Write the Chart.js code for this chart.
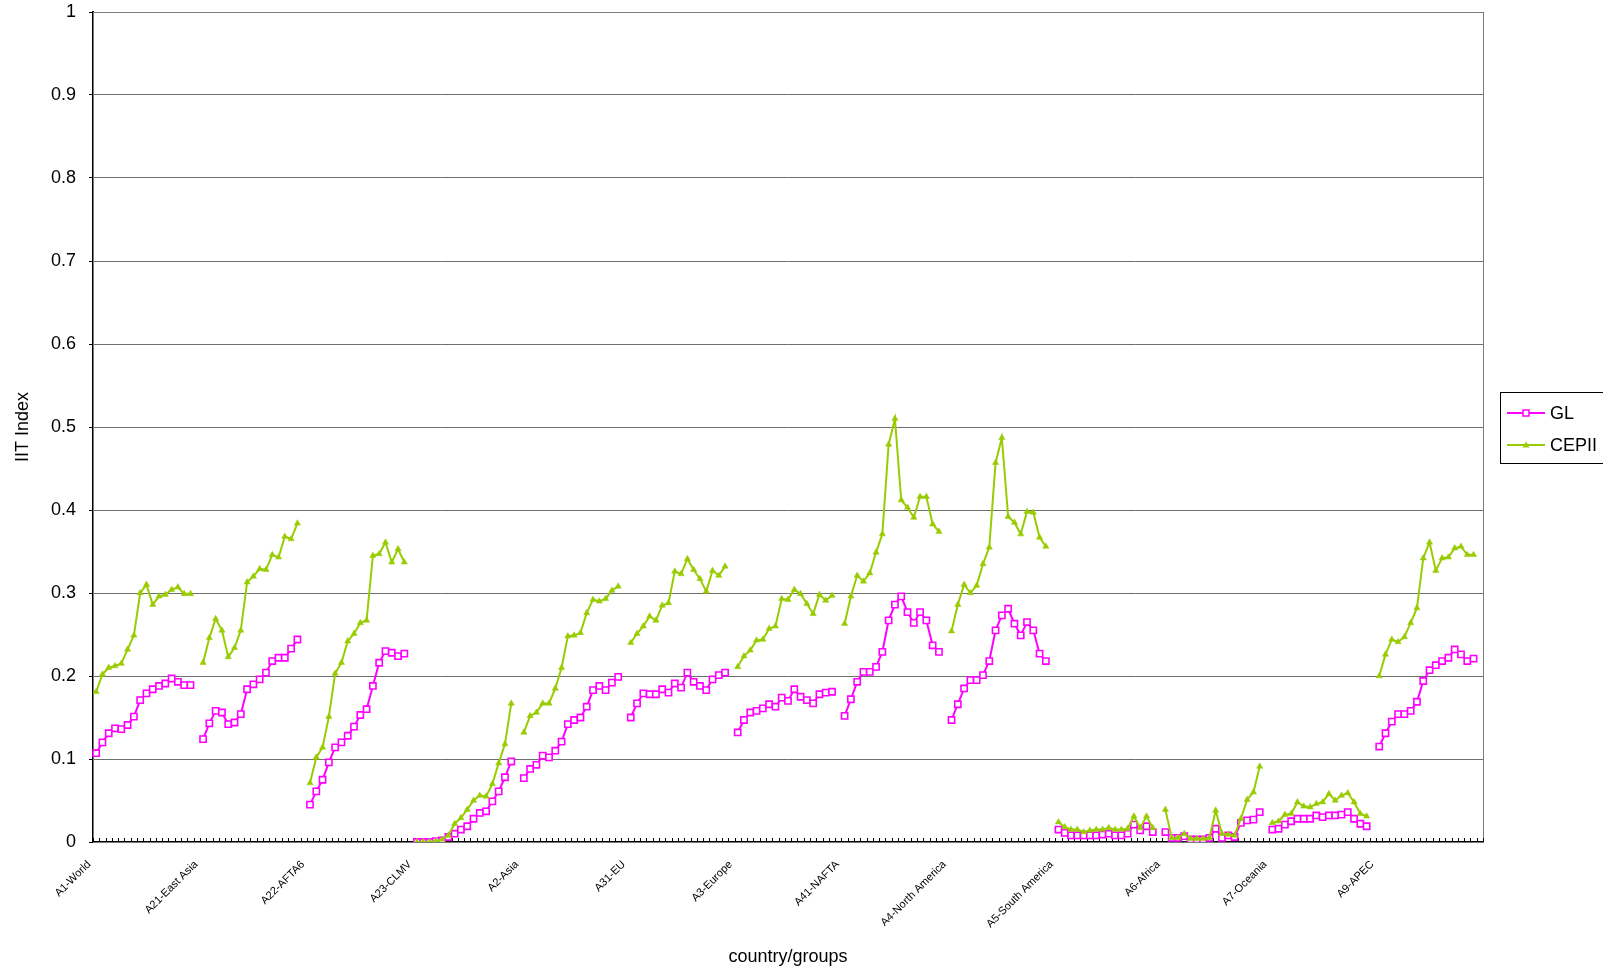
<!DOCTYPE html>
<html>
<head>
<meta charset="utf-8">
<title>IIT Index by country/groups</title>
<script src="https://cdn.jsdelivr.net/npm/chart.js@4.4.1/dist/chart.umd.min.js"></script>
<style>
  html, body { margin: 0; padding: 0; background: #ffffff; overflow: hidden; }
  #wrap { width: 1603px; height: 974px; position: relative; }
  canvas { display: block; }
</style>
</head>
<body>
<div id="wrap"><canvas id="iitChart" width="1603" height="974"></canvas></div>
<script>
// Country groups, one block of 16 yearly observations each
const groupNames = [
  'A1-World', 'A21-East Asia', 'A22-AFTA6', 'A23-CLMV', 'A2-Asia', 'A31-EU',
  'A3-Europe', 'A41-NAFTA', 'A4-North America', 'A5-South America',
  'A6-Africa', 'A7-Oceania', 'A9-APEC'
];

// GL index, per group
const glValues = [
  [0.107,0.120,0.131,0.137,0.136,0.141,0.151,0.171,0.179,0.184,0.188,0.191,0.197,0.193,0.189,0.189],
  [0.124,0.143,0.158,0.156,0.142,0.144,0.154,0.184,0.190,0.196,0.204,0.218,0.222,0.222,0.233,0.244],
  [0.045,0.061,0.075,0.096,0.114,0.120,0.128,0.139,0.153,0.160,0.188,0.216,0.230,0.228,0.224,0.227],
  [0.000,0.000,0.000,0.001,0.002,0.006,0.010,0.015,0.019,0.028,0.035,0.037,0.049,0.061,0.078,0.097],
  [0.077,0.088,0.093,0.104,0.102,0.110,0.121,0.142,0.147,0.150,0.163,0.183,0.188,0.183,0.192,0.199],
  [0.150,0.167,0.179,0.178,0.178,0.184,0.180,0.191,0.186,0.204,0.193,0.188,0.183,0.196,0.201,0.204],
  [0.132,0.147,0.156,0.158,0.161,0.166,0.163,0.174,0.170,0.184,0.175,0.171,0.167,0.178,0.180,0.181],
  [0.152,0.172,0.193,0.205,0.205,0.211,0.229,0.267,0.286,0.296,0.277,0.264,0.277,0.267,0.237,0.229],
  [0.147,0.166,0.185,0.195,0.195,0.201,0.218,0.255,0.273,0.281,0.263,0.249,0.265,0.255,0.227,0.218],
  [0.015,0.011,0.008,0.008,0.008,0.008,0.008,0.009,0.010,0.008,0.008,0.010,0.021,0.014,0.019,0.012],
  [0.012,0.005,0.005,0.007,0.003,0.003,0.003,0.005,0.016,0.005,0.008,0.006,0.023,0.026,0.027,0.036],
  [0.015,0.016,0.021,0.025,0.028,0.028,0.028,0.032,0.030,0.032,0.032,0.033,0.036,0.028,0.022,0.019],
  [0.115,0.131,0.145,0.154,0.154,0.158,0.169,0.194,0.207,0.213,0.218,0.222,0.232,0.226,0.218,0.221]
];

// CEPII index, per group
const cepiiValues = [
  [0.181,0.202,0.210,0.212,0.215,0.232,0.249,0.300,0.310,0.286,0.296,0.298,0.304,0.307,0.299,0.299],
  [0.216,0.246,0.269,0.255,0.223,0.234,0.255,0.313,0.320,0.329,0.328,0.346,0.343,0.368,0.365,0.384],
  [0.071,0.102,0.114,0.151,0.203,0.216,0.242,0.251,0.264,0.267,0.345,0.347,0.361,0.337,0.353,0.337],
  [0.000,0.000,0.000,0.001,0.003,0.008,0.022,0.029,0.039,0.050,0.056,0.055,0.070,0.095,0.118,0.167],
  [0.132,0.152,0.156,0.167,0.167,0.185,0.210,0.248,0.249,0.252,0.276,0.292,0.290,0.293,0.303,0.308],
  [0.240,0.251,0.260,0.272,0.267,0.285,0.288,0.326,0.323,0.341,0.328,0.317,0.302,0.327,0.321,0.332],
  [0.211,0.224,0.231,0.243,0.244,0.257,0.260,0.293,0.292,0.304,0.299,0.287,0.275,0.298,0.291,0.297],
  [0.263,0.296,0.321,0.314,0.324,0.349,0.371,0.479,0.510,0.412,0.403,0.391,0.416,0.416,0.383,0.374],
  [0.254,0.286,0.310,0.300,0.309,0.335,0.355,0.457,0.487,0.392,0.385,0.371,0.398,0.397,0.367,0.356],
  [0.024,0.018,0.015,0.015,0.012,0.014,0.015,0.015,0.017,0.015,0.015,0.016,0.031,0.017,0.031,0.017],
  [0.039,0.005,0.005,0.010,0.004,0.004,0.004,0.005,0.038,0.010,0.009,0.008,0.028,0.051,0.060,0.091],
  [0.023,0.025,0.033,0.034,0.048,0.043,0.042,0.046,0.048,0.058,0.050,0.056,0.059,0.048,0.034,0.031],
  [0.200,0.226,0.244,0.241,0.247,0.264,0.282,0.342,0.361,0.327,0.342,0.343,0.354,0.356,0.346,0.346]
];

// Y axis tick labels (0 .. 1 in steps of 0.1)
const yTickLabels = ['0','0.1','0.2','0.3','0.4','0.5','0.6','0.7','0.8','0.9','1'];

const seriesNames = ['GL', 'CEPII'];
const seriesColors = ['#ff00ff', '#99cc00'];

// Each group is followed by one empty slot so the lines break between groups
const categories = [];
groupNames.forEach(name => {
  for (let i = 0; i < 17; i++) categories.push(i === 0 ? name : '');
});
function flatten(blocks) {
  const out = [];
  blocks.forEach(b => { b.forEach(v => out.push(v)); out.push(null); });
  return out;
}

const FONT = '"Liberation Sans", Arial, Helvetica, sans-serif';
Chart.defaults.font.family = FONT;
Chart.defaults.color = '#000';

// Grey frame round the plot area plus short inward x-axis ticks
const plotFrame = {
  id: 'plotFrame',
  beforeDatasetsDraw(chart) {
    const { ctx, chartArea: a, scales: { x } } = chart;
    ctx.save();
    ctx.strokeStyle = '#7a7a7a';
    ctx.lineWidth = 1;
    ctx.strokeRect(a.left + 0.5, a.top + 0.5, a.right - a.left, a.bottom - a.top);
    ctx.strokeStyle = '#000';
    ctx.beginPath();
    for (let i = 0; i <= categories.length; i++) {
      const px = Math.round(x.getPixelForValue(i - 0.5)) + 0.5;
      ctx.moveTo(px, a.bottom);
      ctx.lineTo(px, a.bottom - 4);
    }
    ctx.stroke();
    ctx.restore();
  }
};

// Boxed legend at the right of the plot
const sideLegend = {
  id: 'sideLegend',
  afterDraw(chart) {
    const { ctx } = chart;
    const bx = 1500.5, by = 392.5, bw = 130, bh = 71;
    ctx.save();
    ctx.fillStyle = '#fff';
    ctx.fillRect(bx, by, bw, bh);
    ctx.strokeStyle = '#000';
    ctx.lineWidth = 1;
    ctx.strokeRect(bx, by, bw, bh);
    const rows = [413, 445];
    ctx.font = '18px ' + FONT;
    ctx.textBaseline = 'middle';
    ctx.textAlign = 'left';
    rows.forEach((ry, i) => {
      ctx.strokeStyle = seriesColors[i];
      ctx.lineWidth = 2;
      ctx.beginPath();
      ctx.moveTo(1507, ry);
      ctx.lineTo(1545, ry);
      ctx.stroke();
      if (i === 0) {
        ctx.fillStyle = '#fff';
        ctx.fillRect(1523, ry - 3, 6, 6);
        ctx.lineWidth = 1.5;
        ctx.strokeRect(1523, ry - 3, 6, 6);
      } else {
        ctx.fillStyle = seriesColors[i];
        ctx.beginPath();
        ctx.moveTo(1526, ry - 3.5);
        ctx.lineTo(1529.5, ry + 2.5);
        ctx.lineTo(1522.5, ry + 2.5);
        ctx.closePath();
        ctx.fill();
      }
      ctx.fillStyle = '#000';
      ctx.fillText(seriesNames[i], 1550, ry + 1);
    });
    ctx.restore();
  }
};

new Chart(document.getElementById('iitChart'), {
  type: 'line',
  data: {
    labels: categories,
    datasets: [
      {
        label: seriesNames[0],
        data: flatten(glValues),
        borderColor: seriesColors[0],
        backgroundColor: '#ffffff',
        borderWidth: 2,
        pointStyle: 'rect',
        pointRadius: 4.4,
        pointBorderWidth: 1.6,
        pointBorderColor: seriesColors[0],
        pointBackgroundColor: '#ffffff',
        spanGaps: false,
        tension: 0,
        order: 1
      },
      {
        label: seriesNames[1],
        data: flatten(cepiiValues),
        borderColor: seriesColors[1],
        backgroundColor: seriesColors[1],
        borderWidth: 2,
        pointStyle: 'triangle',
        pointRadius: 3.6,
        pointBorderWidth: 0.5,
        pointBorderColor: seriesColors[1],
        pointBackgroundColor: seriesColors[1],
        spanGaps: false,
        tension: 0,
        order: 0
      }
    ]
  },
  options: {
    responsive: false,
    animation: false,
    events: [],
    devicePixelRatio: 1,
    layout: { padding: { left: 0, right: 120, top: 12, bottom: 0 } },
    plugins: { legend: { display: false }, tooltip: { enabled: false } },
    scales: {
      x: {
        type: 'category',
        offset: true,
        grid: { display: false },
        border: { display: true, color: '#000', width: 2 },
        ticks: {
          autoSkip: false,
          minRotation: 45,
          maxRotation: 45,
          padding: 8,
          labelOffset: -7,
          font: { size: 11 },
          color: '#000',
          callback: (v, i) => categories[i]
        },
        title: {
          display: true,
          text: 'country/groups',
          font: { size: 18 },
          padding: { top: 0, bottom: 6 }
        },
        afterFit: s => { s.height = 974 - 842; }
      },
      y: {
        min: 0,
        max: 1,
        ticks: {
          stepSize: 0.1,
          padding: 13,
          font: { size: 18 },
          color: '#000',
          callback: (v) => yTickLabels[Math.round(v * 10)]
        },
        grid: { color: '#6e6e6e', lineWidth: 1, tickColor: '#000', tickLength: 4, drawTicks: true },
        border: { display: true, color: '#000', width: 2 },
        title: {
          display: true,
          text: 'IIT Index',
          font: { size: 18 },
          padding: { top: 12, bottom: 0 }
        },
        afterFit: s => { s.width = 93; s.paddingTop = 0; s.paddingBottom = 0; }
      }
    }
  },
  plugins: [plotFrame, sideLegend]
});
</script>
</body>
</html>
